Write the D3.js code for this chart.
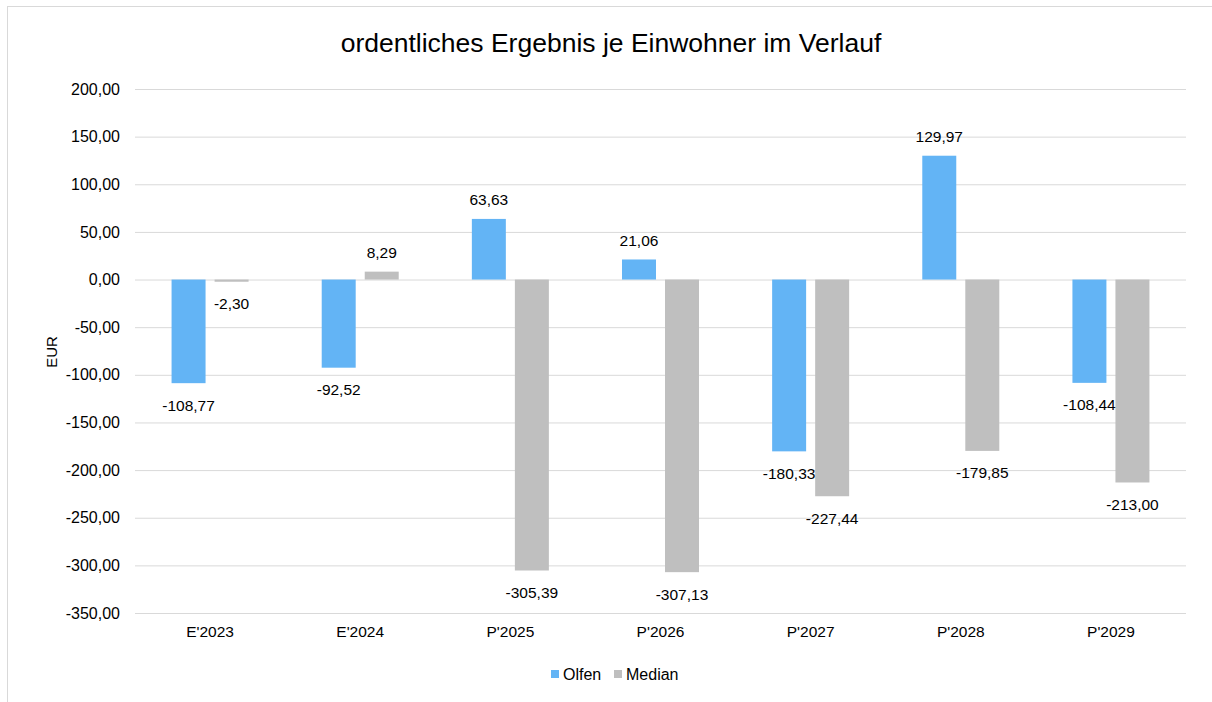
<!DOCTYPE html>
<html>
<head>
<meta charset="utf-8">
<script src="https://cdn.jsdelivr.net/npm/d3@7"></script>
<style>
  body { margin: 0; background: #fff; }
  svg text { font-family: "Liberation Sans", Arial, sans-serif; fill: #000; }
</style>
</head>
<body>
<svg id="chart" width="1212" height="702"></svg>
<script>
var categories = ["E'2023", "E'2024", "P'2025", "P'2026", "P'2027", "P'2028", "P'2029"];
var seriesNames = ["Olfen", "Median"];
var olfen = [-108.77, -92.52, 63.63, 21.06, -180.33, 129.97, -108.44];
var median = [-2.30, 8.29, -305.39, -307.13, -227.44, -179.85, -213.00];
var yTicks = [200, 150, 100, 50, 0, -50, -100, -150, -200, -250, -300, -350];
var colors = {"Olfen": "#63b4f5", "Median": "#bfbfbf"};

// German number format with a plain hyphen for the minus sign
var fmt = function(v) {
  return d3.format(",.2f")(v).replace(/,/g, "X").replace(".", ",").replace(/X/g, ".").replace("\u2212", "-");
};

var svg = d3.select("#chart");

// chart frame (extends past the window on right/bottom)
svg.append("rect")
  .attr("x", 7.5).attr("y", 6.5)
  .attr("width", 1230).attr("height", 720)
  .attr("fill", "none").attr("stroke", "#d9d9d9");

var margin = {left: 135, right: 26, top: 89},
    plotW = 1212 - margin.left - margin.right,
    plotH = 613 - margin.top;

var x0 = d3.scaleBand().domain(categories).range([0, plotW]);
var x1 = d3.scaleBand().domain(seriesNames).range([0, x0.bandwidth()])
  .paddingInner(0.21).paddingOuter(0.85);
var y = d3.scaleLinear().domain([-350, 200]).range([plotH, 0]);

var g = svg.append("g").attr("transform", "translate(" + margin.left + "," + margin.top + ")");

// gridlines + y axis labels
g.append("g")
  .call(d3.axisLeft(y).tickValues(yTicks).tickSize(-plotW).tickPadding(15).tickFormat(fmt))
  .call(function(a) {
    a.select(".domain").remove();
    a.selectAll(".tick line").attr("stroke", "#d9d9d9").attr("stroke-width", 1);
    a.selectAll(".tick text").attr("font-size", 16).style("font-family", "Liberation Sans, Arial, sans-serif");
  });

// x axis labels
g.append("g")
  .attr("transform", "translate(0," + plotH + ")")
  .call(d3.axisBottom(x0).tickSize(0).tickPadding(13))
  .call(function(a) {
    a.select(".domain").remove();
    a.selectAll(".tick text").attr("font-size", 15.5).style("font-family", "Liberation Sans, Arial, sans-serif");
  });

var rows = categories.map(function(c, i) {
  return {cat: c, values: [{name: "Olfen", v: olfen[i]}, {name: "Median", v: median[i]}]};
});

var grp = g.selectAll(".grp").data(rows).enter().append("g")
  .attr("class", "grp")
  .attr("transform", function(d) { return "translate(" + x0(d.cat) + ",0)"; });

grp.selectAll("rect").data(function(d) { return d.values; }).enter().append("rect")
  .attr("x", function(d) { return x1(d.name); })
  .attr("width", x1.bandwidth())
  .attr("y", function(d) { return y(Math.max(0, d.v)); })
  .attr("height", function(d) { return Math.abs(y(d.v) - y(0)); })
  .attr("fill", function(d) { return colors[d.name]; });

grp.selectAll(".lbl").data(function(d) { return d.values; }).enter().append("text")
  .attr("class", "lbl")
  .attr("x", function(d) { return x1(d.name) + x1.bandwidth() / 2; })
  .attr("y", function(d) { return d.v >= 0 ? y(d.v) - 19 : y(d.v) + 22; })
  .attr("dy", "0.35em")
  .attr("text-anchor", "middle")
  .attr("font-size", 15.5)
  .text(function(d) { return fmt(d.v); });

// title
svg.append("text")
  .attr("x", 611).attr("y", 52)
  .attr("text-anchor", "middle")
  .attr("font-size", 26.5)
  .text("ordentliches Ergebnis je Einwohner im Verlauf");

// y axis title
svg.append("text")
  .attr("transform", "translate(57,352) rotate(-90)")
  .attr("text-anchor", "middle")
  .attr("font-size", 15)
  .text("EUR");

// legend
var legend = svg.append("g").attr("transform", "translate(551,674)");
var lx = [0, 63];
seriesNames.forEach(function(s, i) {
  var item = legend.append("g").attr("transform", "translate(" + lx[i] + ",0)");
  item.append("rect").attr("x", 0).attr("y", -4).attr("width", 8).attr("height", 8).attr("fill", colors[s]);
  item.append("text").attr("x", 12).attr("y", 0).attr("dy", "0.35em").attr("font-size", 16).text(s);
});
</script>
</body>
</html>
